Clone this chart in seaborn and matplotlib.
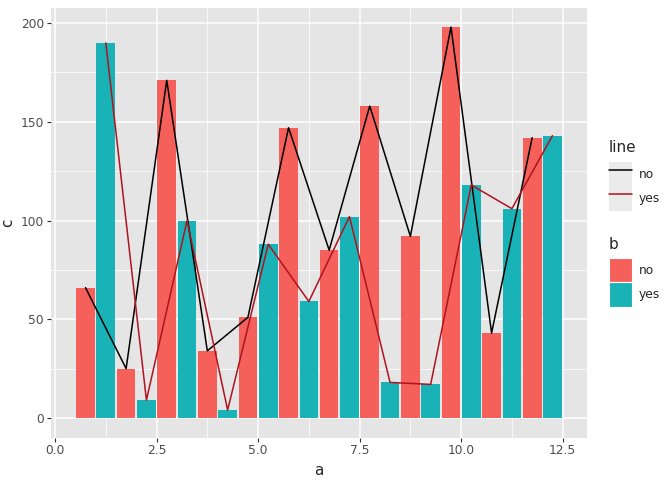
import numpy as np
import pandas as pd
import matplotlib.pyplot as plt
import seaborn as sns
from matplotlib.lines import Line2D
from matplotlib.patches import Patch

# data
a = list(range(1, 13))
c_no = [66, 25, 171, 34, 51, 147, 85, 158, 92, 198, 43, 142]
c_yes = [190, 9, 100, 4, 88, 59, 102, 18, 17, 118, 106, 143]
groups = ["no", "yes"]
xticks = [0.0, 2.5, 5.0, 7.5, 10.0, 12.5]
yticks = [0, 50, 100, 150, 200]

fill_cols = {"no": "#F5605A", "yes": "#19B3B7"}
line_cols = {"no": "black", "yes": "#B0121F"}

df = pd.DataFrame({"a": a * 2, "c": c_no + c_yes, "b": ["no"] * 12 + ["yes"] * 12})
# dodged position of the line points (dodge width 1)
df["x"] = df["a"] + np.where(df["b"] == "no", -0.25, 0.25)

sns.set_theme(style="darkgrid", rc={
    "axes.facecolor": "#E5E5E5",
    "grid.color": "white",
    "axes.edgecolor": "none",
})
plt.rcParams["font.family"] = ["DejaVu Sans"]

W, H = 672, 480
fig = plt.figure(figsize=(6.72, 4.8), dpi=100)
ax = fig.add_axes([51 / W, 1 - 437.5 / H, 536 / W, 430 / H])

sns.barplot(data=df, x="a", y="c", hue="b", hue_order=groups, palette=fill_cols,
            native_scale=True, width=1.0, gap=0.08, errorbar=None,
            saturation=1, legend=False, linewidth=0, ax=ax)
sns.lineplot(data=df, x="x", y="c", hue="b", hue_order=groups, palette=line_cols,
             lw=1.1, legend=False, ax=ax, sort=True)

ax.set_xlim(-0.1, 13.1)
ax.set_ylim(-9.9, 207.9)
ax.set_xticks(xticks)
ax.set_xticklabels([f"{t:.1f}" for t in xticks])
ax.set_yticks(yticks)
ax.set_xticks([1.25, 3.75, 6.25, 8.75, 11.25], minor=True)
ax.set_yticks([25, 75, 125, 175], minor=True)
ax.grid(which="major", color="white", lw=1.1)
ax.grid(which="minor", color="white", lw=0.55)
ax.set_axisbelow(True)
ax.tick_params(which="major", length=3, width=0.8, color="#333333",
               labelsize=8.8, labelcolor="#4D4D4D", pad=2, bottom=True, left=True)
ax.tick_params(which="minor", length=0)
ax.set_xlabel("a", fontsize=11, labelpad=4)
ax.set_ylabel("c", fontsize=11, labelpad=4)

# legends: titles as text, keys ~22 px squares stacked without spacing
leg_kw = dict(loc="upper left", frameon=False, fontsize=8.8,
              handlelength=1.85, handleheight=2.7, handletextpad=0.6,
              labelspacing=0.0, borderaxespad=0, borderpad=0)
line_handles = [(Patch(facecolor="#EBEBEB", edgecolor="none"),
                 Line2D([], [], color=line_cols[g], lw=1.1)) for g in groups]
fig.text(609 / W, 1 - 148 / H, "line", fontsize=11, va="center", ha="left")
leg1 = fig.legend(line_handles, groups, bbox_to_anchor=(609 / W, 1 - 162 / H), **leg_kw)
fill_handles = [Patch(facecolor=fill_cols[g], edgecolor="white", lw=0.8) for g in groups]
fig.text(609 / W, 1 - 245 / H, "b", fontsize=11, va="center", ha="left")
leg2 = fig.legend(fill_handles, groups, bbox_to_anchor=(609 / W, 1 - 258 / H), **leg_kw)

fig.savefig("out.png", dpi=100)
